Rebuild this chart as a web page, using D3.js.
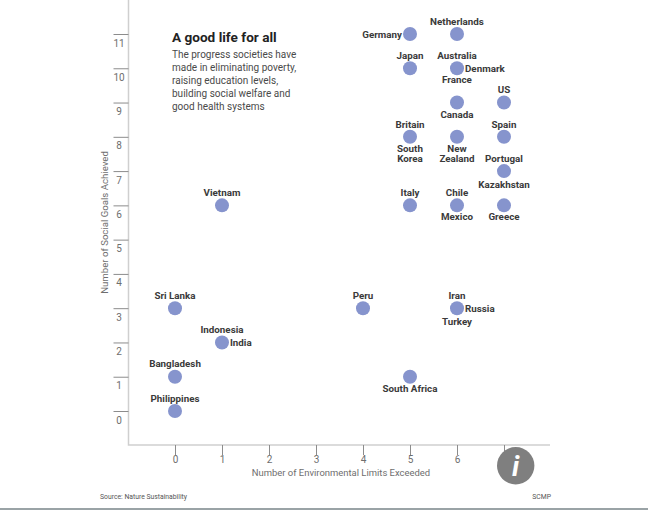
<!DOCTYPE html>
<html><head><meta charset="utf-8">
<script src="https://cdn.jsdelivr.net/npm/d3@7/dist/d3.min.js"></script>
<style>html,body{margin:0;padding:0;background:#fff}svg{display:block}text{font-family:"Roboto",sans-serif}</style>
</head><body><svg id="c" width="648" height="510"></svg>
<script>
const countries=["Germany","Netherlands","Japan","Australia","Denmark","France","Canada","US","Britain","South Korea","New Zealand","Spain","Portugal","Kazakhstan","Italy","Chile","Mexico","Greece","Vietnam","Sri Lanka","Peru","Iran","Russia","Turkey","Indonesia","India","Bangladesh","Philippines","South Africa"];
const limits=[5,6,5,6,6,6,6,7,5,5,6,7,7,7,5,6,6,7,1,0,4,6,6,6,1,1,0,0,5];
const goals=[11,11,10,10,10,10,9,9,8,8,8,8,7,7,6,6,6,6,6,3,3,3,3,3,2,2,1,0,1];
const sides=["left","above","above","above","right","below","below","above","above","below","below","above","above","far","above","above","below","below","above","above","above","above","right","far","above","right","above","above","below"];
const xTicks=[0,1,2,3,4,5,6,7];
const yTicks=[0,1,2,3,4,5,6,7,8,9,10,11];
const xTitle="Number of Environmental Limits Exceeded";
const yTitle="Number of Social Goals Achieved";
const title="A good life for all";
const subtitle=["The progress societies have","made in eliminating poverty,","raising education levels,","building social welfare and","good health systems"];
const source="Source: Nature Sustainability";
const credit="SCMP";

const svg=d3.select("#c");
const x=d3.scaleLinear().domain([0,7]).range([175,504]);
const y=d3.scaleLinear().domain([0,11]).range([411,34]);
const axisCol="#cfcfcf",tickCol="#8c8c8c",lab="#6e6e6e",ink="#3a3a3a";
const left=128.5,bottom=445,right=550;

svg.append("rect").attr("x",0).attr("y",508).attr("width",648).attr("height",2).attr("fill","#9aa3a6");
svg.append("path").attr("d",`M${left},0V${bottom}H${right}`).attr("fill","none").attr("stroke",axisCol).attr("stroke-width",1.5);

const yg=svg.append("g").attr("transform",`translate(${left},0)`).call(d3.axisLeft(y).tickValues(yTicks).tickSize(15).tickFormat(d3.format("d")));
yg.select(".domain").remove();
yg.selectAll("line").attr("stroke",tickCol);
yg.selectAll("text").attr("x",-9.5).attr("text-anchor","middle").attr("dy","1.2em").attr("fill",lab).attr("font-size",10).attr("font-family","Roboto");

const xg=svg.append("g").attr("transform",`translate(0,${bottom})`).call(d3.axisBottom(x).tickValues(xTicks).tickSize(10).tickPadding(1).tickFormat(d=>d===7?"":d3.format("d")(d)));
xg.select(".domain").remove();
xg.selectAll("line").attr("stroke",tickCol);
xg.selectAll("text").attr("fill",lab).attr("font-size",10).attr("font-family","Roboto");

svg.append("text").attr("x",341).attr("y",476).attr("text-anchor","middle").attr("font-size",9.45).attr("fill",lab).text(xTitle);
svg.append("text").attr("transform","translate(107.5,222.5) rotate(-90)").attr("text-anchor","middle").attr("font-size",9.65).attr("fill",lab).text(yTitle);

svg.append("text").attr("x",172).attr("y",41.5).attr("font-size",13.6).attr("font-weight",700).attr("font-family","Roboto").attr("fill","#222").text(title);
svg.append("g").selectAll("text").data(subtitle).join("text").attr("x",172).attr("y",(d,i)=>58+i*13).attr("font-size",10).attr("fill","#4a4a4a").text(d=>d);

const idx=d3.range(countries.length);
svg.append("g").selectAll("circle").data([...new Set(idx.map(i=>limits[i]+"|"+goals[i]))]).join("circle")
 .attr("cx",d=>x(+d.split("|")[0])).attr("cy",d=>y(+d.split("|")[1])).attr("r",7).attr("fill","#8694cd");

const lines=n=>n==="South Korea"?["South","Korea"]:n==="New Zealand"?["New","Zealand"]:[n];
const baseOffset={above:-9.3,below:15,far:17,left:3.5,right:3.5};
const g=svg.append("g");
idx.forEach(i=>{
 const s=sides[i],px=x(limits[i]),py=y(goals[i]);
 const anchor=s==="left"?"end":s==="right"?"start":"middle";
 const tx=s==="left"?px-8:s==="right"?px+8:px;
 const t=g.append("text").attr("x",tx).attr("y",py+baseOffset[s]).attr("text-anchor",anchor)
   .attr("font-size",9.8).attr("font-weight",700).attr("fill",ink);
 lines(countries[i]).forEach((w,k)=>t.append("tspan").attr("x",tx).attr("dy",k?10.3:0).text(w));
});

const info=svg.append("g").attr("transform","translate(515.7,465.7)");
info.append("circle").attr("r",18.7).attr("fill","#7f7f7f");
info.append("text").attr("text-anchor","middle").attr("y",10.5).attr("font-size",28).attr("font-weight",700).attr("font-style","italic").attr("font-family","Liberation Serif").attr("fill","#fff").text("i");

svg.append("text").attr("x",100).attr("y",499).attr("font-size",6.8).attr("fill","#555").text(source);
svg.append("text").attr("x",551).attr("y",499).attr("text-anchor","end").attr("font-size",6.8).attr("fill","#555").text(credit);
</script></body></html>
